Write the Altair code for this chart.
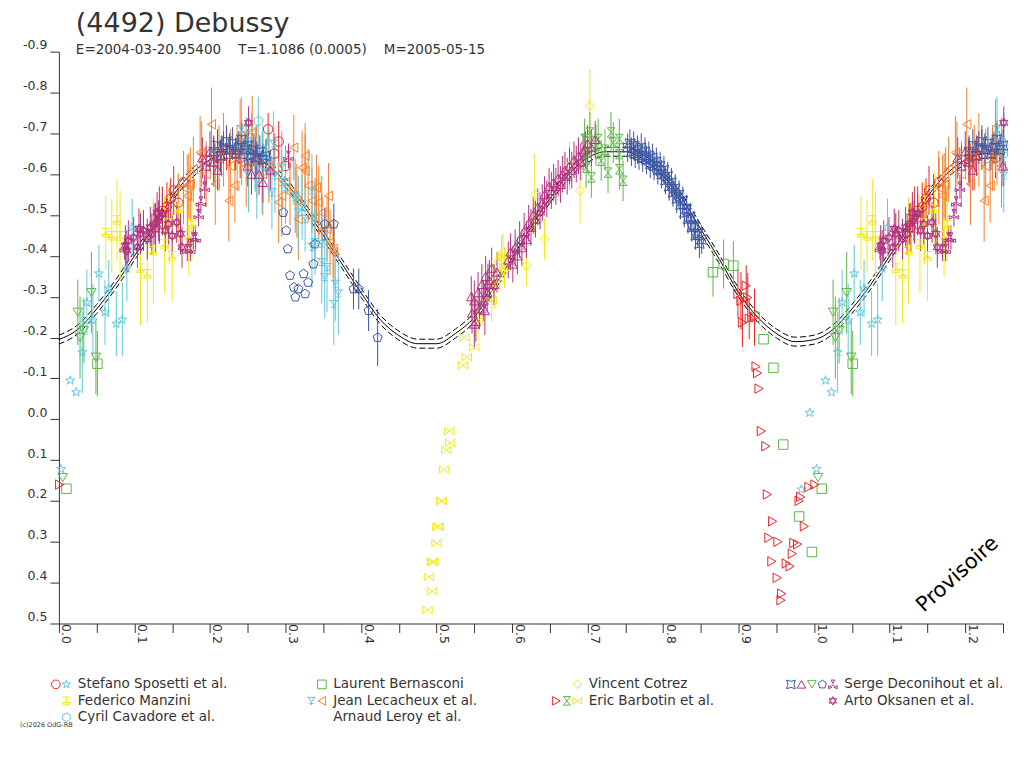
import altair as alt
import pandas as pd

RED = "#ec2227"
CYAN = "#62c8dc"
YELLOW = "#f3e71b"
GREEN = "#5cb846"
ORANGE = "#f47f2c"
BLUE = "#3b55a4"
MAGENTA = "#b1317f"

# fitted lightcurve, phase 0..1 (repeated past 1.0)
CURVE_PHASE = [0.000, 0.025, 0.050, 0.075, 0.100, 0.125, 0.150, 0.175, 0.200, 0.225,
               0.250, 0.275, 0.300, 0.325, 0.350, 0.375, 0.400, 0.425, 0.450, 0.475,
               0.500, 0.525, 0.550, 0.575, 0.600, 0.625, 0.650, 0.675, 0.700, 0.725,
               0.750, 0.775, 0.800, 0.825, 0.850, 0.875, 0.900, 0.925, 0.950, 0.975]
CURVE_MAG = [-0.195, -0.220, -0.270, -0.330, -0.400, -0.470, -0.545, -0.600, -0.635, -0.650,
             -0.650, -0.625, -0.580, -0.520, -0.450, -0.380, -0.310, -0.245, -0.205, -0.185,
             -0.185, -0.210, -0.250, -0.320, -0.395, -0.470, -0.540, -0.600, -0.640, -0.655,
             -0.655, -0.635, -0.595, -0.540, -0.465, -0.390, -0.310, -0.250, -0.210, -0.190]
CURVE_BAND = 0.011

# (phase, magnitude, error) per observer / symbol
SPOSETTI_CIRCLE = [
    (0.128, -0.47, 0.06), (0.133, -0.50, 0.07), (0.137, -0.51, 0.06), (0.143, -0.52, 0.06),
    (0.148, -0.54, 0.05), (0.152, -0.56, 0.06), (0.158, -0.53, 0.07), (0.165, -0.58, 0.06),
    (0.205, -0.63, 0.06), (0.222, -0.66, 0.05), (0.240, -0.64, 0.05), (0.277, -0.71, 0.04),
    (0.285, -0.65, 0.05), (0.291, -0.68, 0.05), (0.300, -0.62, 0.04),
]
SPOSETTI_STAR = [
    (0.003, 0.122, 0.0), (0.015, -0.095, 0.0), (0.023, -0.066, 0.0), (0.031, -0.164, 0.10),
    (0.037, -0.286, 0.08), (0.045, -0.242, 0.09), (0.053, -0.357, 0.07), (0.061, -0.262, 0.08),
    (0.066, -0.320, 0.07), (0.076, -0.234, 0.08), (0.084, -0.244, 0.09), (0.090, -0.369, 0.08),
    (0.097, -0.470, 0.07), (0.983, 0.172, 0.0), (0.994, -0.016, 0.0),
]
MANZINI = [
    (0.062, -0.457, 0.09), (0.070, -0.449, 0.09), (0.077, -0.488, 0.10), (0.081, -0.449, 0.11),
    (0.108, -0.370, 0.14), (0.117, -0.356, 0.12), (0.125, -0.413, 0.13), (0.140, -0.429, 0.12),
    (0.146, -0.480, 0.10), (0.150, -0.400, 0.11), (0.159, -0.516, 0.09), (0.172, -0.449, 0.10),
    (0.176, -0.476, 0.09),
]
CAVADORE = [
    (0.248, -0.68, 0.06), (0.2505, -0.65, 0.05), (0.255, -0.70, 0.05), (0.260, -0.61, 0.05),
    (0.264, -0.73, 0.06), (0.270, -0.66, 0.06), (0.275, -0.64, 0.05),
]
BERNASCONI = [
    (0.010, 0.170, 0.0), (0.051, -0.136, 0.08), (0.866, -0.360, 0.06), (0.880, -0.380, 0.06),
    (0.893, -0.376, 0.06), (0.921, -0.251, 0.06), (0.933, -0.196, 0.0), (0.946, -0.126, 0.0),
    (0.959, 0.062, 0.0), (0.980, 0.238, 0.0), (0.997, 0.325, 0.0),
]
LECACHEUX_TRI = [
    (0.242, -0.710, 0.08), (0.251, -0.661, 0.09), (0.251, -0.596, 0.09), (0.260, -0.637, 0.08),
    (0.262, -0.580, 0.09), (0.269, -0.604, 0.10), (0.278, -0.629, 0.08), (0.282, -0.555, 0.09),
    (0.284, -0.674, 0.08), (0.286, -0.596, 0.09), (0.295, -0.616, 0.09), (0.295, -0.580, 0.08),
    (0.300, -0.567, 0.09), (0.313, -0.535, 0.08), (0.313, -0.547, 0.09), (0.317, -0.506, 0.09),
    (0.322, -0.519, 0.08), (0.326, -0.490, 0.08), (0.335, -0.559, 0.09), (0.335, -0.421, 0.10),
    (0.339, -0.494, 0.09), (0.339, -0.433, 0.08), (0.348, -0.429, 0.09), (0.348, -0.384, 0.10),
    (0.352, -0.347, 0.10), (0.355, -0.372, 0.11), (0.364, -0.282, 0.10), (0.366, -0.331, 0.09),
    (0.370, -0.307, 0.10),
]
LECACHEUX_LEFT = [
    (0.165, -0.567, 0.09), (0.170, -0.547, 0.10), (0.172, -0.572, 0.08), (0.174, -0.576, 0.09),
    (0.178, -0.612, 0.08), (0.187, -0.653, 0.09), (0.189, -0.649, 0.08), (0.195, -0.600, 0.08),
    (0.202, -0.722, 0.09), (0.207, -0.576, 0.10), (0.212, -0.640, 0.08), (0.218, -0.660, 0.09),
    (0.225, -0.535, 0.10), (0.227, -0.620, 0.09), (0.233, -0.572, 0.09), (0.236, -0.640, 0.08),
    (0.240, -0.694, 0.09), (0.242, -0.653, 0.08), (0.248, -0.620, 0.10), (0.256, -0.702, 0.09),
    (0.262, -0.630, 0.09), (0.270, -0.600, 0.10), (0.278, -0.620, 0.09), (0.291, -0.531, 0.10),
    (0.295, -0.547, 0.10), (0.300, -0.580, 0.09), (0.306, -0.555, 0.08), (0.311, -0.665, 0.08),
    (0.315, -0.535, 0.09), (0.317, -0.490, 0.10), (0.322, -0.616, 0.09), (0.326, -0.645, 0.08),
    (0.326, -0.608, 0.09), (0.330, -0.572, 0.09), (0.335, -0.535, 0.08), (0.339, -0.490, 0.10),
    (0.341, -0.567, 0.08), (0.344, -0.531, 0.09), (0.348, -0.462, 0.09), (0.348, -0.506, 0.09),
    (0.355, -0.466, 0.08), (0.357, -0.547, 0.08), (0.359, -0.433, 0.08), (0.364, -0.409, 0.08),
    (0.363, -0.417, 0.07),
]
COTREZ = [
    (0.619, -0.376, 0.05), (0.630, -0.550, 0.10), (0.643, -0.441, 0.05), (0.676, -0.620, 0.06),
    (0.690, -0.560, 0.08), (0.703, -0.767, 0.09),
]
BARBOTIN_RIGHT = [
    (0.001, 0.160, 0.0),
    (0.899, -0.307, 0.06), (0.903, -0.290, 0.07), (0.905, -0.237, 0.06), (0.910, -0.327, 0.05),
    (0.912, -0.298, 0.06), (0.914, -0.246, 0.05), (0.921, -0.250, 0.07),
    (0.923, -0.129, 0.0), (0.925, -0.113, 0.0), (0.927, -0.075, 0.0), (0.930, 0.029, 0.0),
    (0.936, 0.066, 0.0), (0.938, 0.184, 0.0), (0.940, 0.290, 0.0), (0.944, 0.348, 0.0),
    (0.945, 0.250, 0.0), (0.951, 0.388, 0.0), (0.952, 0.300, 0.0), (0.956, 0.443, 0.0),
    (0.957, 0.427, 0.0), (0.963, 0.353, 0.0), (0.968, 0.360, 0.0), (0.971, 0.329, 0.0),
    (0.973, 0.303, 0.0), (0.978, 0.306, 0.0), (0.980, 0.200, 0.0), (0.982, 0.190, 0.0),
    (0.987, 0.262, 0.0), (0.993, 0.166, 0.0),
]
BARBOTIN_HOUR = [
    (0.696, -0.686, 0.05), (0.698, -0.616, 0.05), (0.700, -0.653, 0.05), (0.703, -0.702, 0.05),
    (0.705, -0.592, 0.05), (0.711, -0.670, 0.05), (0.714, -0.686, 0.05), (0.718, -0.633, 0.05),
    (0.723, -0.660, 0.05), (0.727, -0.604, 0.05), (0.731, -0.702, 0.05), (0.734, -0.677, 0.05),
    (0.742, -0.686, 0.05), (0.742, -0.649, 0.05), (0.742, -0.612, 0.05), (0.747, -0.584, 0.05),
]
BARBOTIN_BOWTIE = [
    (0.488, 0.467, 0.0), (0.490, 0.386, 0.0), (0.494, 0.349, 0.0), (0.496, 0.349, 0.0),
    (0.494, 0.421, 0.0), (0.500, 0.303, 0.0), (0.501, 0.264, 0.0), (0.503, 0.262, 0.0),
    (0.506, 0.200, 0.0), (0.507, 0.200, 0.0), (0.510, 0.123, 0.0), (0.513, 0.075, 0.0),
    (0.518, 0.058, 0.0), (0.517, 0.029, 0.0),
    (0.535, -0.132, 0.0), (0.537, -0.200, 0.0), (0.540, -0.152, 0.0), (0.550, -0.176, 0.0),
    (0.555, -0.242, 0.05), (0.573, -0.290, 0.05), (0.577, -0.331, 0.06), (0.584, -0.364, 0.05),
    (0.586, -0.400, 0.05), (0.588, -0.396, 0.06), (0.590, -0.372, 0.05),
]
SERGE_ASTROID = [
    (0.205, -0.655, 0.04), (0.210, -0.670, 0.04), (0.214, -0.645, 0.04), (0.218, -0.665, 0.04),
    (0.222, -0.680, 0.04), (0.226, -0.660, 0.04), (0.230, -0.675, 0.04), (0.234, -0.650, 0.04),
    (0.238, -0.665, 0.04), (0.242, -0.685, 0.04), (0.246, -0.660, 0.04), (0.250, -0.670, 0.04),
    (0.254, -0.645, 0.04), (0.258, -0.660, 0.04), (0.262, -0.640, 0.04), (0.266, -0.655, 0.04),
    (0.270, -0.635, 0.04), (0.274, -0.645, 0.04),
    (0.753, -0.665, 0.035), (0.756, -0.675, 0.035), (0.758, -0.655, 0.035), (0.761, -0.670, 0.035),
    (0.763, -0.650, 0.035), (0.766, -0.660, 0.035), (0.768, -0.645, 0.035), (0.771, -0.665, 0.035),
    (0.773, -0.640, 0.035), (0.776, -0.655, 0.035), (0.778, -0.635, 0.035), (0.781, -0.645, 0.035),
    (0.783, -0.625, 0.035), (0.786, -0.640, 0.035), (0.788, -0.620, 0.035), (0.791, -0.630, 0.035),
    (0.793, -0.610, 0.035), (0.796, -0.620, 0.035), (0.798, -0.600, 0.035), (0.801, -0.610, 0.035),
    (0.803, -0.585, 0.035), (0.806, -0.595, 0.035), (0.808, -0.570, 0.035), (0.811, -0.580, 0.035),
    (0.813, -0.555, 0.035), (0.816, -0.565, 0.035), (0.818, -0.540, 0.035), (0.821, -0.550, 0.035),
    (0.823, -0.525, 0.035), (0.826, -0.535, 0.035), (0.828, -0.505, 0.035), (0.831, -0.515, 0.035),
    (0.833, -0.490, 0.035), (0.836, -0.495, 0.035), (0.838, -0.470, 0.035), (0.841, -0.475, 0.035),
    (0.843, -0.450, 0.035), (0.846, -0.455, 0.035), (0.848, -0.430, 0.035), (0.851, -0.440, 0.035),
]
SERGE_UP = [
    (0.190, -0.640, 0.05), (0.195, -0.620, 0.05), (0.200, -0.655, 0.05), (0.205, -0.630, 0.05),
    (0.210, -0.610, 0.05), (0.215, -0.645, 0.05), (0.250, -0.620, 0.05), (0.255, -0.600, 0.05),
    (0.260, -0.640, 0.05), (0.265, -0.600, 0.05), (0.270, -0.580, 0.05), (0.280, -0.610, 0.05),
    (0.546, -0.300, 0.05), (0.547, -0.260, 0.05), (0.550, -0.290, 0.05), (0.550, -0.233, 0.06),
    (0.552, -0.240, 0.05), (0.555, -0.310, 0.05), (0.557, -0.270, 0.05), (0.560, -0.330, 0.05),
    (0.562, -0.290, 0.05), (0.564, -0.266, 0.06), (0.565, -0.350, 0.05), (0.567, -0.310, 0.05),
    (0.568, -0.331, 0.05), (0.570, -0.340, 0.05), (0.573, -0.370, 0.05), (0.576, -0.330, 0.05),
    (0.580, -0.360, 0.05), (0.595, -0.390, 0.045), (0.598, -0.410, 0.045), (0.601, -0.380, 0.045),
    (0.604, -0.420, 0.045), (0.607, -0.400, 0.045), (0.610, -0.440, 0.045), (0.613, -0.420, 0.045),
    (0.616, -0.460, 0.045), (0.619, -0.440, 0.045), (0.622, -0.480, 0.045), (0.625, -0.470, 0.045),
    (0.628, -0.500, 0.045), (0.631, -0.490, 0.045), (0.634, -0.520, 0.045), (0.637, -0.510, 0.045),
    (0.640, -0.530, 0.045), (0.643, -0.550, 0.045), (0.646, -0.540, 0.045), (0.649, -0.570, 0.045),
    (0.652, -0.560, 0.045), (0.655, -0.580, 0.045), (0.658, -0.570, 0.045), (0.661, -0.590, 0.045),
    (0.664, -0.575, 0.045), (0.667, -0.600, 0.045), (0.670, -0.610, 0.045), (0.673, -0.595, 0.045),
    (0.676, -0.620, 0.045), (0.679, -0.610, 0.045), (0.682, -0.635, 0.045), (0.685, -0.625, 0.045),
    (0.688, -0.645, 0.045), (0.691, -0.630, 0.045), (0.694, -0.655, 0.045), (0.697, -0.660, 0.045),
    (0.700, -0.675, 0.045), (0.705, -0.665, 0.045), (0.710, -0.685, 0.045),
]
SERGE_DOWN = [
    (0.005, 0.143, 0.0), (0.025, -0.262, 0.08), (0.028, -0.200, 0.10), (0.033, -0.217, 0.08),
    (0.043, -0.310, 0.10), (0.049, -0.152, 0.09),
]
SERGE_PENT = [
    (0.297, -0.506, 0.0), (0.301, -0.462, 0.0), (0.303, -0.417, 0.0), (0.306, -0.352, 0.0),
    (0.311, -0.323, 0.0), (0.317, -0.319, 0.0), (0.324, -0.356, 0.0), (0.330, -0.335, 0.0),
    (0.326, -0.307, 0.0), (0.313, -0.299, 0.0), (0.339, -0.429, 0.0), (0.337, -0.380, 0.0),
    (0.352, -0.478, 0.04), (0.364, -0.478, 0.05), (0.390, -0.319, 0.05), (0.397, -0.319, 0.05),
    (0.410, -0.266, 0.05), (0.422, -0.200, 0.07),
]
SERGE_TREFOIL = [
    (0.087, -0.421, 0.03), (0.170, -0.417, 0.03), (0.174, -0.417, 0.03), (0.178, -0.445, 0.03),
    (0.181, -0.445, 0.03), (0.185, -0.502, 0.03), (0.188, -0.533, 0.03), (0.193, -0.569, 0.03),
    (0.304, -0.645, 0.03),
]
OKSANEN = [
    (0.088, -0.425, 0.05), (0.090, -0.413, 0.05), (0.092, -0.437, 0.05), (0.099, -0.445, 0.05),
    (0.104, -0.421, 0.05), (0.106, -0.466, 0.05), (0.108, -0.454, 0.05), (0.112, -0.462, 0.05),
    (0.117, -0.441, 0.05), (0.121, -0.470, 0.05), (0.123, -0.454, 0.05), (0.126, -0.478, 0.05),
    (0.130, -0.506, 0.05), (0.132, -0.486, 0.05), (0.137, -0.502, 0.05), (0.141, -0.462, 0.05),
    (0.145, -0.478, 0.05), (0.150, -0.449, 0.05), (0.156, -0.482, 0.05), (0.161, -0.454, 0.05),
    (0.163, -0.421, 0.05), (0.251, -0.726, 0.04),
]

SHAPES = {
    "star": "M0,-1L0.22,-0.31L0.95,-0.31L0.36,0.12L0.59,0.81L0,0.38L-0.59,0.81L-0.36,0.12L-0.95,-0.31L-0.22,-0.31Z",
    "hexagon": "M0,-1L0.87,-0.5L0.87,0.5L0,1L-0.87,0.5L-0.87,-0.5Z",
    "stemtri": "M-1,-0.8L1,-0.8M-0.7,-0.8L0,0.3L0.7,-0.8M0,0.3L0,1M-0.6,0.65L0.6,0.65",
    "manz": "M-0.9,-0.9L0.9,-0.9M0,-0.9L0,-0.2M-0.8,0.9L0,-0.2L0.8,0.9ZM-1,0.4L1,0.4",
    "hourglass": "M-0.8,-1L0.8,-1L-0.8,1L0.8,1Z",
    "bowtie": "M-1,-0.8L-1,0.8L1,-0.8L1,0.8Z",
    "astroid": "M-1,-1Q0,-0.4 1,-1Q0.4,0 1,1Q0,0.4 -1,1Q-0.4,0 -1,-1Z",
    "pentagon": "M0,-1L0.95,-0.31L0.59,0.81L-0.59,0.81L-0.95,-0.31Z",
    "trefoil": "M-0.4,-1L0.4,-1L0,-0.2ZM-1,0.3L-1,1L-0.2,0.65ZM1,0.3L1,1L0.2,0.65ZM-0.3,0.2L0.3,0.2",
    "hexagram": "M0,-1L0.87,0.5L-0.87,0.5ZM0,1L0.87,-0.5L-0.87,-0.5Z",
}

SERIES = [
    ("sposetti_circle", "circle", RED, SPOSETTI_CIRCLE),
    ("sposetti_star", SHAPES["star"], CYAN, SPOSETTI_STAR),
    ("manzini", SHAPES["manz"], YELLOW, MANZINI),
    ("bernasconi", "square", GREEN, BERNASCONI),
    ("lecacheux_left", "triangle-left", ORANGE, LECACHEUX_LEFT),
    ("lecacheux_tri", SHAPES["stemtri"], CYAN, LECACHEUX_TRI),
    ("cavadore", SHAPES["hexagon"], CYAN, CAVADORE),
    ("cotrez", "diamond", YELLOW, COTREZ),
    ("barbotin_right", "triangle-right", RED, BARBOTIN_RIGHT),
    ("barbotin_hour", SHAPES["hourglass"], GREEN, BARBOTIN_HOUR),
    ("barbotin_bowtie", SHAPES["bowtie"], YELLOW, BARBOTIN_BOWTIE),
    ("serge_astroid", SHAPES["astroid"], BLUE, SERGE_ASTROID),
    ("serge_up", "triangle-up", MAGENTA, SERGE_UP),
    ("serge_down", "triangle-down", GREEN, SERGE_DOWN),
    ("serge_pent", SHAPES["pentagon"], BLUE, SERGE_PENT),
    ("serge_trefoil", SHAPES["trefoil"], MAGENTA, SERGE_TREFOIL),
    ("oksanen", SHAPES["hexagram"], MAGENTA, OKSANEN),
]

LEGEND = [
    ("Stefano Sposetti et al.", 0, 0, ["sposetti_circle", "sposetti_star"]),
    ("Federico Manzini", 0, 1, ["manzini"]),
    ("Cyril Cavadore et al.", 0, 2, ["cavadore"]),
    ("Laurent Bernasconi", 1, 0, ["bernasconi"]),
    ("Jean Lecacheux et al.", 1, 1, ["lecacheux_tri", "lecacheux_left"]),
    ("Arnaud Leroy et al.", 1, 2, []),
    ("Vincent Cotrez", 2, 0, ["cotrez"]),
    ("Eric Barbotin et al.", 2, 1, ["barbotin_right", "barbotin_hour", "barbotin_bowtie"]),
    ("Serge Deconihout et al.", 3, 0, ["serge_astroid", "serge_up", "serge_down",
                                       "serge_pent", "serge_trefoil"]),
    ("Arto Oksanen et al.", 3, 1, ["oksanen"]),
]

W, H = 946, 573
X_MAX = 1.25
FONT = "DejaVu Sans"
INK = "#333333"

keys = [s[0] for s in SERIES]
shape_scale = alt.Scale(domain=keys, range=[s[1] for s in SERIES])
color_scale = alt.Scale(domain=keys, range=[s[2] for s in SERIES])

# observations, with the first quarter of the cycle repeated after phase 1
rows = []
for key, _, _, pts in SERIES:
    for ph, mag, err in pts:
        phases = [ph, ph + 1] if ph + 1 <= X_MAX + 0.001 else [ph]
        for p in phases:
            rows.append({"series": key, "phase": p, "mag": mag,
                         "lo": mag - err, "hi": mag + err, "err": err})
obs = pd.DataFrame(rows)

crow = []
for ph, mag in zip(CURVE_PHASE + [1.0], CURVE_MAG + [CURVE_MAG[0]]):
    for p in ([ph, ph + 1] if 0 < ph + 1 <= X_MAX + 0.001 and ph < 1 else [ph]):
        crow.append({"phase": p, "mid": mag, "up": mag - CURVE_BAND, "dn": mag + CURVE_BAND})
curve = pd.DataFrame(crow).drop_duplicates("phase").sort_values("phase")

x_ticks = [round(i * 0.05, 2) for i in range(26)]
y_ticks = [round(-0.9 + i * 0.1, 1) for i in range(15)]

x_enc = alt.X(
    "phase:Q",
    scale=alt.Scale(domain=[0, X_MAX], nice=False, zero=False),
    axis=alt.Axis(
        values=x_ticks, title=None, grid=False, tickSize=9, labelAngle=90,
        labelAlign="left", labelBaseline="bottom", labelPadding=-9,
        labelExpr="round(datum.value * 100) % 10 == 0 ? format(datum.value, '.1f') : ''",
    ),
)
y_scale = alt.Scale(domain=[-0.9, 0.5], reverse=True, nice=False, zero=False)
y_axis = alt.Axis(
    values=y_ticks, title=None, grid=False, tickSize=9, labelPadding=3,
    labelBaseline="bottom",
    labelExpr="replace(format(datum.value, '.1f'), '\u2212', '-')",
)

base = alt.Chart(curve)
mid_line = base.mark_line(color="black", strokeWidth=1, interpolate="monotone").encode(
    x=x_enc, y=alt.Y("mid:Q", scale=y_scale, axis=y_axis)
)
up_line = base.mark_line(color="black", strokeWidth=1, strokeDash=[6, 3],
                         interpolate="monotone").encode(x=x_enc, y=alt.Y("up:Q", scale=y_scale))
dn_line = base.mark_line(color="black", strokeWidth=1, strokeDash=[6, 3],
                         interpolate="monotone").encode(x=x_enc, y=alt.Y("dn:Q", scale=y_scale))

bars = alt.Chart(obs[obs["err"] > 0]).mark_rule(strokeWidth=1).encode(
    x=x_enc,
    y=alt.Y("lo:Q", scale=y_scale),
    y2="hi:Q",
    color=alt.Color("series:N", scale=color_scale, legend=None),
)
points = alt.Chart(obs).mark_point(filled=False, strokeWidth=1, size=90, opacity=1).encode(
    x=x_enc,
    y=alt.Y("mag:Q", scale=y_scale),
    color=alt.Color("series:N", scale=color_scale, legend=None),
    shape=alt.Shape("series:N", scale=shape_scale, legend=None),
)
stamp = alt.Chart(pd.DataFrame({"phase": [1.19], "mag": [0.38], "t": ["Provisoire"]})).mark_text(
    angle=318, fontSize=21, font=FONT, color="black", align="center", baseline="middle"
).encode(x=x_enc, y=alt.Y("mag:Q", scale=y_scale), text="t:N")

plot = alt.layer(dn_line, up_line, mid_line, bars, points, stamp).properties(
    width=W, height=H,
    title=alt.TitleParams(
        "(4492) Debussy",
        subtitle="E=2004-03-20.95400\u00a0\u00a0\u00a0\u00a0T=1.1086 (0.0005)\u00a0\u00a0\u00a0\u00a0M=2005-05-15",
        anchor="start", frame="group", dx=17, offset=-19, font=FONT, fontSize=27,
        fontWeight="normal", color=INK, subtitleFont=FONT, subtitleFontSize=13.5,
        subtitleColor=INK, subtitlePadding=5,
    ),
)

# legend: four columns of observers, symbols to the left of each name
LEG_H = 60
COL_W, COL0, ROW0, ROW_H, SYM_GAP, SYM_STEP = 256, 19, 12, 16.5, 11.5, 10.5
ltext, lsym = [], []
for label, col, row, ser in LEGEND:
    tx = COL0 + col * COL_W
    ty = ROW0 + row * ROW_H
    ltext.append({"x": tx, "y": ty, "t": label})
    for i, key in enumerate(ser):
        lsym.append({"x": tx - SYM_GAP - (len(ser) - 1 - i) * SYM_STEP, "y": ty, "series": key})
lx = alt.Scale(domain=[0, W], nice=False, zero=False)
ly = alt.Scale(domain=[0, LEG_H], reverse=True, nice=False, zero=False)
leg_text = alt.Chart(pd.DataFrame(ltext)).mark_text(
    align="left", baseline="middle", font=FONT, fontSize=13.5, color=INK
).encode(x=alt.X("x:Q", scale=lx, axis=None), y=alt.Y("y:Q", scale=ly, axis=None), text="t:N")
leg_sym = alt.Chart(pd.DataFrame(lsym)).mark_point(filled=False, strokeWidth=1, size=75, opacity=1).encode(
    x=alt.X("x:Q", scale=lx, axis=None),
    y=alt.Y("y:Q", scale=ly, axis=None),
    color=alt.Color("series:N", scale=color_scale, legend=None),
    shape=alt.Shape("series:N", scale=shape_scale, legend=None),
)
copy = alt.Chart(pd.DataFrame({"x": [-39], "y": [53], "t": ["(c)2026 OdG-RB"]})).mark_text(
    align="left", baseline="middle", font=FONT, fontSize=6.5, color=INK
).encode(x=alt.X("x:Q", scale=lx, axis=None), y=alt.Y("y:Q", scale=ly, axis=None), text="t:N")
legend = alt.layer(leg_text, leg_sym, copy).properties(width=W, height=LEG_H)

chart = (
    alt.vconcat(plot, legend, spacing=29)
    .resolve_scale(x="independent", y="independent")
    .properties(padding={"left": 12, "top": 1, "right": 5, "bottom": 5})
    .configure_view(stroke=None)
    .configure_axis(
        labelFont=FONT, labelFontSize=12.5, labelColor=INK,
        domainColor=INK, tickColor=INK, domainWidth=1, tickWidth=1,
    )
)

chart.save("out.html", embed_options={"renderer": "svg", "actions": False})
